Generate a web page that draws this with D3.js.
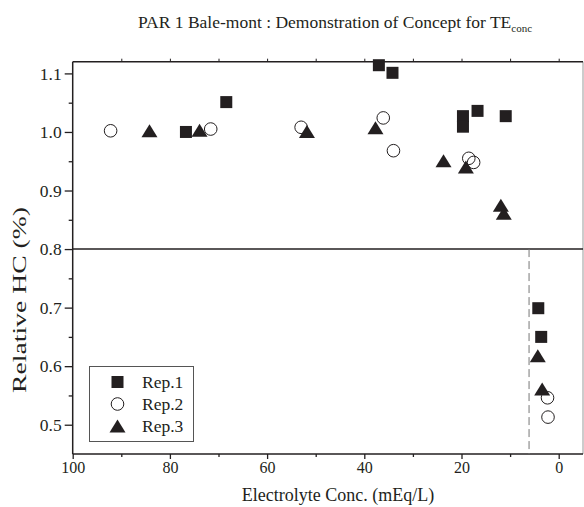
<!DOCTYPE html>
<html>
<head>
<meta charset="utf-8">
<script src="https://cdn.jsdelivr.net/npm/d3@7/dist/d3.min.js"></script>
<style>
  body { margin: 0; background: #fff; }
  svg text { font-family: "Liberation Serif", "Times New Roman", serif; fill: #231f20; }
</style>
</head>
<body>
<svg id="chart" width="584" height="507"></svg>
<script>
// ---- data ----
const seriesNames = ["Rep.1", "Rep.2", "Rep.3"];
const rep1X = [76.7, 68.4, 37.0, 34.2, 19.7, 19.7, 16.7, 10.9, 4.2, 3.6];
const rep1Y = [1.000, 1.051, 1.114, 1.101, 1.027, 1.009, 1.036, 1.027, 0.699, 0.650];
const rep2X = [92.2, 71.6, 53.0, 36.1, 34.0, 18.5, 17.5, 2.3, 2.2];
const rep2Y = [1.002, 1.005, 1.008, 1.024, 0.968, 0.955, 0.948, 0.546, 0.513];
const rep3X = [84.2, 73.9, 51.8, 37.7, 23.7, 19.1, 11.9, 11.3, 4.3, 3.4];
const rep3Y = [1.002, 1.003, 1.001, 1.007, 0.951, 0.940, 0.875, 0.861, 0.618, 0.561];
const xTicks = [100, 80, 60, 40, 20, 0];
const xMinorTicks = [90, 70, 50, 30, 10];
const yTicks = [0.5, 0.6, 0.7, 0.8, 0.9, 1.0, 1.1];
const yMinorTicks = [0.55, 0.65, 0.75, 0.85, 0.95, 1.05];
const thresholdY = 0.8;
const cutoffX = 6.1;
const titleMain = "PAR 1 Bale-mont : Demonstration of Concept for TE";
const titleSub = "conc";
const xLabel = "Electrolyte Conc. (mEq/L)";
const yLabel = "Relative HC (%)";

const svg = d3.select("#chart");
const L = 72.7, R = 583, T = 61.7, B = 454;
const x = d3.scaleLinear().domain([100, -5]).range([L, R]);
const y = d3.scaleLinear().domain([0.45, 1.12]).range([B, T]);
const ink = "#231f20";

// frame: right & top
svg.append("line").attr("x1", R).attr("x2", R).attr("y1", T).attr("y2", B)
  .attr("stroke", "#999").attr("stroke-width", 1);
svg.append("line").attr("x1", L).attr("x2", R).attr("y1", T).attr("y2", T)
  .attr("stroke", ink).attr("stroke-width", 1.5);

// top ticks
svg.append("g").attr("transform", `translate(0,${T})`)
  .call(d3.axisTop(x).tickValues(xTicks.concat(xMinorTicks).filter(v => v < 100)).tickSize(3).tickFormat(""))
  .call(g => g.select(".domain").remove())
  .call(g => g.selectAll("line").attr("stroke", ink).attr("stroke-width", 1));

// bottom axis
const gx = svg.append("g").attr("transform", `translate(0,${B})`)
  .call(d3.axisBottom(x).tickValues(xTicks).tickSize(5).tickPadding(3).tickFormat(d3.format("d")));
gx.select(".domain").attr("d", `M${L},0H${R}`).attr("stroke", ink).attr("stroke-width", 1.5);
gx.selectAll(".tick line").attr("stroke", ink).attr("stroke-width", 1.3);
gx.selectAll(".tick text").attr("font-size", 16).attr("font-family", "Liberation Serif").attr("fill", ink);
svg.append("g").attr("transform", `translate(0,${B})`)
  .call(d3.axisBottom(x).tickValues(xMinorTicks).tickSize(3).tickFormat(""))
  .call(g => g.select(".domain").remove())
  .call(g => g.selectAll("line").attr("stroke", ink).attr("stroke-width", 1.3));

// left axis
const gy = svg.append("g").attr("transform", `translate(${L},0)`)
  .call(d3.axisLeft(y).tickValues(yTicks).tickSize(8).tickPadding(3).tickFormat(d3.format(".1f")));
gy.select(".domain").attr("d", `M0,${T}V${B}`).attr("stroke", ink).attr("stroke-width", 1.5);
gy.selectAll(".tick line").attr("stroke", ink).attr("stroke-width", 1.3);
gy.selectAll(".tick text").attr("font-size", 17.5).attr("font-family", "Liberation Serif").attr("fill", ink);
svg.append("g").attr("transform", `translate(${L},0)`)
  .call(d3.axisLeft(y).tickValues(yMinorTicks).tickSize(4).tickFormat(""))
  .call(g => g.select(".domain").remove())
  .call(g => g.selectAll("line").attr("stroke", ink).attr("stroke-width", 1.3));

// threshold line at 0.8
svg.append("line").attr("x1", L).attr("x2", R).attr("y1", y(thresholdY)).attr("y2", y(thresholdY))
  .attr("stroke", ink).attr("stroke-width", 1.5);
// dashed cutoff
svg.append("line").attr("x1", x(cutoffX)).attr("x2", x(cutoffX)).attr("y1", y(thresholdY)).attr("y2", B)
  .attr("stroke", "#777").attr("stroke-width", 1).attr("stroke-dasharray", "8,4");

// markers
function drawSquare(g, cx, cy, s) {
  g.append("rect").attr("x", cx - s / 2).attr("y", cy - s / 2).attr("width", s).attr("height", s)
    .attr("fill", ink);
}
function drawCircle(g, cx, cy, r) {
  g.append("circle").attr("cx", cx).attr("cy", cy).attr("r", r)
    .attr("fill", "#fff").attr("fill-opacity", 0).attr("stroke", ink).attr("stroke-width", 1);
}
function drawTriangle(g, cx, cy, w, h) {
  g.append("path").attr("d", `M${cx},${cy - h / 2}L${cx + w / 2},${cy + h / 2}L${cx - w / 2},${cy + h / 2}Z`)
    .attr("fill", ink);
}
const marks = svg.append("g");
rep1X.forEach((v, i) => drawSquare(marks, x(v), y(rep1Y[i]), 12));
rep2X.forEach((v, i) => drawCircle(marks, x(v), y(rep2Y[i]), 6.3));
rep3X.forEach((v, i) => drawTriangle(marks, x(v), y(rep3Y[i]), 16, 13));

// legend
const lg = svg.append("g");
lg.append("rect").attr("x", 89.5).attr("y", 366.5).attr("width", 104).attr("height", 75)
  .attr("fill", "#fff").attr("stroke", "#555").attr("stroke-width", 1);
const ly = [382, 404, 426];
drawSquare(lg, 117.5, ly[0], 12);
drawCircle(lg, 117.5, ly[1], 6.3);
drawTriangle(lg, 117.5, ly[2], 16, 13);
seriesNames.forEach((n, i) => {
  lg.append("text").attr("x", 142).attr("y", ly[i] + 6).attr("font-size", 17.5).text(n);
});

// titles
const t = svg.append("text").attr("x", 335).attr("y", 28).attr("text-anchor", "middle").attr("font-size", 17.5);
t.append("tspan").text(titleMain);
t.append("tspan").attr("font-size", 11).attr("dy", 4).text(titleSub);

svg.append("text").attr("x", 338).attr("y", 501).attr("text-anchor", "middle").attr("font-size", 18).text(xLabel);
svg.append("text").attr("transform", "translate(26,300) rotate(-90)").attr("text-anchor", "middle")
  .attr("font-size", 19).attr("textLength", 186).attr("lengthAdjust", "spacingAndGlyphs").text(yLabel);
</script>
</body>
</html>
